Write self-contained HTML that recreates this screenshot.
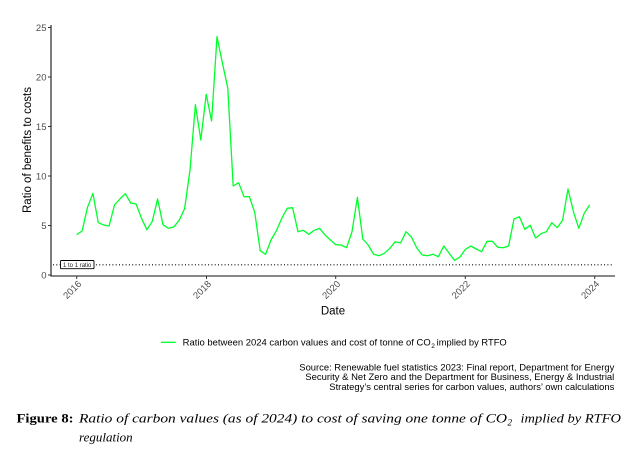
<!DOCTYPE html>
<html>
<head>
<meta charset="utf-8">
<style>
html,body{margin:0;padding:0;background:#fff;}
svg{display:block;}
</style>
</head>
<body>
<svg width="632" height="451" viewBox="0 0 632 451" xmlns="http://www.w3.org/2000/svg">
<rect x="0" y="0" width="632" height="451" fill="#ffffff"/>

<!-- dotted 1:1 line -->
<line x1="53" y1="264.8" x2="614" y2="264.8" stroke="#000" stroke-width="1.1" stroke-dasharray="1 2.3"/>
<!-- label box -->
<rect x="60.5" y="260.5" width="33.5" height="8.2" rx="1" ry="1" fill="#fff" stroke="#000" stroke-width="0.9"/>
<text x="77.2" y="267" font-family="Liberation Sans, sans-serif" font-size="6" fill="#222" text-anchor="middle">1 to 1 ratio</text>

<!-- data line -->
<polyline fill="none" stroke="#00ff2a" stroke-width="1.3" stroke-linejoin="round" points="
76.7,234.7 82.1,231 87.5,207.3 92.9,193.3 98.3,222.7 103.7,225 109.1,226 114.5,205 119.9,199 125.3,193.7 130.7,203 136.1,204
141.5,218.3 146.9,229.7 152.3,221.3 157.6,199 163,224.7 168.4,228.3 173.8,227 179.2,220.3 184.6,208.7 190,170 195.4,104.7 200.8,140
206.2,94.3 211.6,121 217,36.7 222.4,63 227.8,88.3 233.2,186 238.6,182.7 244,196.7 249.4,196.7 254.8,212.7 260.2,250.7 265.6,254.3
271,240 276.4,230.7 281.8,218.3 287.2,208.3 292.6,207.7 298,231.7 303.4,230.3 308.8,234.3 314.2,230.3 319.6,228.3 325,235 330.4,240
335.8,244.7 341.2,245 346.6,247.7 352,231.7 357.4,197.3 362.8,239 368.2,245 373.6,254.3 379,255.7 384.4,253.3 389.8,248.3 395.2,241.7
400.6,243 406,231.7 411.4,237 416.8,248 422.2,255 427.6,255.7 433,254.3 438.4,256.7 443.8,246 449.2,253.3 454.6,260.3 460,257
465.4,249.3 470.8,246 476.2,249 481.6,251.7 487,241.3 492.4,241.3 497.8,247.3 503.2,247.7 508.6,246 514,219 519.4,216.7 524.8,229.3
530.2,225.3 535.6,238 541,233.7 546.4,231.7 551.8,222.7 557.2,227.7 562.6,220.3 568,189 573.4,211.7 578.8,228.3 584.2,213.3 589.6,205"/>

<!-- axes -->
<line x1="51" y1="25" x2="51" y2="276.5" stroke="#111" stroke-width="1.1"/>
<line x1="50.5" y1="276" x2="615" y2="276" stroke="#111" stroke-width="1.1"/>

<!-- y ticks -->
<g stroke="#333" stroke-width="1">
<line x1="48" y1="275" x2="51" y2="275"/>
<line x1="48" y1="225.5" x2="51" y2="225.5"/>
<line x1="48" y1="176" x2="51" y2="176"/>
<line x1="48" y1="126.5" x2="51" y2="126.5"/>
<line x1="48" y1="77" x2="51" y2="77"/>
<line x1="48" y1="27.5" x2="51" y2="27.5"/>
</g>
<g font-family="Liberation Sans, sans-serif" font-size="9.5" fill="#4d4d4d" text-anchor="end">
<text x="46.5" y="278.3">0</text>
<text x="46.5" y="228.8">5</text>
<text x="46.5" y="179.3">10</text>
<text x="46.5" y="129.8">15</text>
<text x="46.5" y="80.3">20</text>
<text x="46.5" y="30.8">25</text>
</g>

<!-- x ticks -->
<g stroke="#333" stroke-width="1">
<line x1="76.7" y1="276" x2="76.7" y2="279"/>
<line x1="206.5" y1="276" x2="206.5" y2="279"/>
<line x1="335.7" y1="276" x2="335.7" y2="279"/>
<line x1="465.3" y1="276" x2="465.3" y2="279"/>
<line x1="594.7" y1="276" x2="594.7" y2="279"/>
</g>
<g font-family="Liberation Sans, sans-serif" font-size="9.5" fill="#4d4d4d" text-anchor="end">
<text transform="translate(82,284.5) rotate(-45)">2016</text>
<text transform="translate(211.8,284.5) rotate(-45)">2018</text>
<text transform="translate(341,284.5) rotate(-45)">2020</text>
<text transform="translate(470.6,284.5) rotate(-45)">2022</text>
<text transform="translate(600,284.5) rotate(-45)">2024</text>
</g>

<!-- axis titles -->
<text transform="translate(31,150) rotate(-90)" font-family="Liberation Sans, sans-serif" font-size="11.5" fill="#000" text-anchor="middle" textLength="126" lengthAdjust="spacingAndGlyphs">Ratio of benefits to costs</text>
<text x="333" y="314.5" font-family="Liberation Sans, sans-serif" font-size="11.5" fill="#000" text-anchor="middle">Date</text>

<!-- legend -->
<line x1="161" y1="342.3" x2="175.7" y2="342.3" stroke="#00ff2a" stroke-width="1.3"/>
<g font-family="Liberation Sans, sans-serif" font-size="9.3" fill="#000">
<text x="182.7" y="345.5" textLength="248" lengthAdjust="spacingAndGlyphs">Ratio between 2024 carbon values and cost of tonne of CO</text>
<text x="431.3" y="347.8" font-size="6.5">2</text>
<text x="436.7" y="345.5" textLength="70" lengthAdjust="spacingAndGlyphs">implied by RTFO</text>
</g>

<!-- source -->
<g font-family="Liberation Sans, sans-serif" font-size="9.1" fill="#000" text-anchor="end">
<text x="614.3" y="370.3" textLength="315" lengthAdjust="spacingAndGlyphs">Source: Renewable fuel statistics 2023: Final report, Department for Energy</text>
<text x="614.3" y="380.2" textLength="309" lengthAdjust="spacingAndGlyphs">Security &amp; Net Zero and the Department for Business, Energy &amp; Industrial</text>
<text x="614.3" y="390" textLength="285" lengthAdjust="spacingAndGlyphs">Strategy’s central series for carbon values, authors’ own calculations</text>
</g>

<!-- caption -->
<text x="16.5" y="422.7" font-family="Liberation Serif, serif" font-size="13" font-weight="bold" fill="#000" textLength="57" lengthAdjust="spacingAndGlyphs">Figure 8:</text>
<g font-family="Liberation Serif, serif" font-size="13" font-style="italic" fill="#000">
<text x="79" y="422.7" textLength="428" lengthAdjust="spacingAndGlyphs">Ratio of carbon values (as of 2024) to cost of saving one tonne of CO</text>
<text x="507.5" y="425.7" font-size="9">2</text>
<text x="520.5" y="422.7" textLength="100.5" lengthAdjust="spacingAndGlyphs">implied by RTFO</text>
<text x="79" y="441.7">regulation</text>
</g>
</svg>
</body>
</html>
